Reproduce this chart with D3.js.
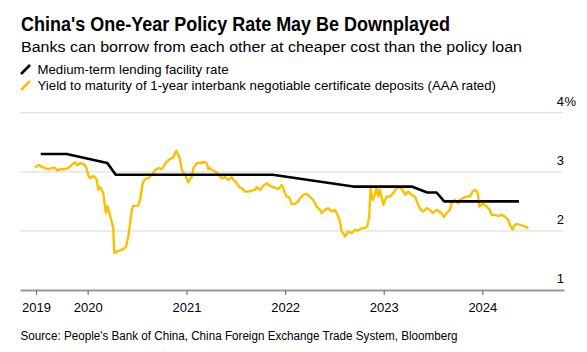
<!DOCTYPE html>
<html>
<head>
<meta charset="utf-8">
<script src="https://cdn.jsdelivr.net/npm/d3@7"></script>
<style>
  html, body { margin: 0; padding: 0; background: #fff; }
  svg { display: block; font-family: "Liberation Sans", Arial, Helvetica, sans-serif; }
</style>
</head>
<body>
<svg id="chart" width="587" height="352"></svg>
<script>
// ---- Data (time as decimal years, values in %) ----
const mlfTime = [2019.524, 2019.787, 2020.199, 2020.284, 2021.874, 2022.691, 2023.283, 2023.441, 2023.536, 2023.613, 2024.370];
const mlfRate = [3.30, 3.30, 3.15, 2.95, 2.95, 2.75, 2.75, 2.65, 2.65, 2.50, 2.50];

const ncdTime = [
  2019.466, 2019.500, 2019.534, 2019.567, 2019.601, 2019.635, 2019.669, 2019.692, 2019.719, 2019.770,
  2019.803, 2019.838, 2019.871, 2019.895, 2019.922, 2019.955, 2019.983, 2020.006, 2020.023, 2020.057,
  2020.091, 2020.107, 2020.125, 2020.142, 2020.158, 2020.185, 2020.199, 2020.219, 2020.243, 2020.259,
  2020.270, 2020.294, 2020.327, 2020.361, 2020.388, 2020.411, 2020.429, 2020.446, 2020.462, 2020.496,
  2020.513, 2020.530, 2020.557, 2020.581, 2020.614, 2020.648, 2020.682, 2020.715, 2020.750, 2020.783,
  2020.817, 2020.851, 2020.867, 2020.895, 2020.918, 2020.935, 2020.952, 2020.986, 2021.019, 2021.036,
  2021.054, 2021.070, 2021.104, 2021.138, 2021.155, 2021.171, 2021.206, 2021.222, 2021.239, 2021.273,
  2021.307, 2021.340, 2021.358, 2021.391, 2021.425, 2021.459, 2021.475, 2021.510, 2021.536, 2021.560,
  2021.594, 2021.627, 2021.662, 2021.695, 2021.712, 2021.746, 2021.779, 2021.814, 2021.847, 2021.880,
  2021.931, 2021.966, 2021.999, 2022.016, 2022.043, 2022.067, 2022.100, 2022.134, 2022.151, 2022.184,
  2022.219, 2022.252, 2022.286, 2022.320, 2022.354, 2022.371, 2022.404, 2022.438, 2022.472, 2022.506,
  2022.539, 2022.556, 2022.573, 2022.590, 2022.607, 2022.640, 2022.675, 2022.708, 2022.742, 2022.776,
  2022.810, 2022.833, 2022.853, 2022.867, 2022.888, 2022.911, 2022.928, 2022.944, 2022.962, 2022.995,
  2023.029, 2023.063, 2023.096, 2023.131, 2023.164, 2023.191, 2023.215, 2023.248, 2023.283, 2023.316,
  2023.350, 2023.374, 2023.400, 2023.435, 2023.468, 2023.495, 2023.536, 2023.587, 2023.610, 2023.637,
  2023.671, 2023.688, 2023.721, 2023.755, 2023.772, 2023.805, 2023.840, 2023.873, 2023.901, 2023.924,
  2023.947, 2023.957, 2023.968, 2024.008, 2024.043, 2024.076, 2024.093, 2024.127, 2024.160, 2024.195,
  2024.228, 2024.262, 2024.279, 2024.306, 2024.320, 2024.347, 2024.380, 2024.414, 2024.448, 2024.465
];
const ncdYield = [
  3.071, 3.117, 3.088, 3.061, 3.044, 3.061, 3.071, 3.020, 3.044, 3.044,
  3.061, 3.117, 3.162, 3.111, 3.145, 3.133, 3.088, 2.948, 2.892, 2.931,
  2.875, 2.694, 2.740, 2.694, 2.639, 2.301, 2.424, 2.301, 2.159, 2.047,
  1.625, 1.652, 1.669, 1.693, 1.736, 1.905, 2.132, 2.356, 2.424, 2.424,
  2.436, 2.525, 2.807, 2.875, 2.892, 2.948, 3.032, 3.061, 3.044, 3.133,
  3.201, 3.230, 3.247, 3.358, 3.285, 3.201, 3.032, 2.948, 2.818, 2.875,
  2.919, 3.061, 3.145, 3.155, 3.145, 3.172, 3.145, 3.044, 3.061, 3.020,
  2.986, 2.919, 2.892, 2.909, 2.863, 2.909, 2.863, 2.807, 2.740, 2.723,
  2.666, 2.666, 2.682, 2.694, 2.740, 2.694, 2.762, 2.807, 2.762, 2.740,
  2.706, 2.779, 2.639, 2.581, 2.564, 2.453, 2.458, 2.497, 2.554, 2.610,
  2.627, 2.571, 2.525, 2.412, 2.356, 2.301, 2.356, 2.385, 2.328, 2.356,
  2.243, 2.159, 1.990, 1.963, 1.905, 1.990, 1.963, 2.019, 2.007, 2.047,
  2.047, 2.074, 2.243, 2.723, 2.525, 2.610, 2.740, 2.581, 2.694, 2.441,
  2.581, 2.581, 2.639, 2.723, 2.740, 2.694, 2.610, 2.666, 2.610, 2.581,
  2.441, 2.356, 2.328, 2.385, 2.356, 2.301, 2.356, 2.301, 2.233, 2.301,
  2.356, 2.470, 2.525, 2.470, 2.525, 2.554, 2.581, 2.581, 2.666, 2.694,
  2.666, 2.610, 2.412, 2.458, 2.412, 2.356, 2.272, 2.272, 2.255, 2.272,
  2.243, 2.188, 2.103, 2.019, 2.086, 2.120, 2.103, 2.086, 2.064, 2.047
];

const xTickTimes = [2019.476, 2020, 2021, 2022, 2023, 2024];
const xTickLabels = ["2019", "2020", "2021", "2022", "2023", "2024"];
const yTicks = [1, 2, 3, 4];
const yTickLabels = ["1", "2", "3", "4"];

const titleText = "China's One-Year Policy Rate May Be Downplayed";
const subtitleText = "Banks can borrow from each other at cheaper cost than the policy loan";
const legendLabels = ["Medium-term lending facility rate", "Yield to maturity of 1-year interbank negotiable certificate deposits (AAA rated)"];
const sourceText = "Source: People's Bank of China, China Foreign Exchange Trade System, Bloomberg";

// ---- helpers ----
function decToDate(t) {
  const y = Math.floor(t);
  const s = Date.UTC(y, 0, 1), e = Date.UTC(y + 1, 0, 1);
  return new Date(s + (t - y) * (e - s));
}

const BLACK = "#000000";
const YELLOW = "#fcc000";

const svg = d3.select("#chart");

// Scales
const x = d3.scaleUtc()
  .domain([decToDate(2019.314), decToDate(2024.826)])
  .range([20, 564]);
const y = d3.scaleLinear().domain([1, 4]).range([290, 112.7]);

// Title / subtitle
function fitText(sel, target) {
  const w = sel.node().getComputedTextLength();
  if (Math.abs(w - target) > 2) sel.attr("textLength", target).attr("lengthAdjust", "spacingAndGlyphs");
}
const t = svg.append("text").attr("x", 21).attr("y", 30.5)
  .attr("font-size", 19.5).attr("font-weight", "bold").attr("fill", "#000").text(titleText);
fitText(t, 429);
const st = svg.append("text").attr("x", 21).attr("y", 52)
  .attr("font-size", 15.3).attr("fill", "#000").text(subtitleText);
fitText(st, 501);

// Legend
const legendColors = [BLACK, YELLOW];
const legendY = [74, 90];
legendLabels.forEach((lab, i) => {
  svg.append("line")
    .attr("x1", 21).attr("y1", legendY[i])
    .attr("x2", 30).attr("y2", legendY[i] - 9)
    .attr("stroke", legendColors[i]).attr("stroke-width", 2.6);
  const lt = svg.append("text").attr("x", 37.5).attr("y", legendY[i])
    .attr("font-size", 13.4).attr("fill", "#000").text(lab);
  fitText(lt, i === 0 ? 191 : 458.5);
});

// Gridlines
svg.append("g").selectAll("line").data(yTicks.slice(1)).join("line")
  .attr("x1", 20).attr("x2", 563)
  .attr("y1", d => y(d)).attr("y2", d => y(d))
  .attr("stroke", "#e1e1e1").attr("stroke-width", 1.3);

// Y labels
svg.append("g").selectAll("text").data(yTicks).join("text")
  .attr("x", 564).attr("y", d => y(d) - 7)
  .attr("text-anchor", "end").attr("font-size", 13).attr("fill", "#000")
  .text((d, i) => yTickLabels[i]);
svg.append("text").attr("x", 564.5).attr("y", y(4) - 7)
  .attr("font-size", 13).attr("fill", "#000").text("%");

// X axis
const xAxis = d3.axisBottom(x)
  .tickValues(xTickTimes.map(decToDate))
  .tickFormat((d, i) => xTickLabels[i])
  .tickSize(5).tickSizeOuter(0);
const gx = svg.append("g").attr("transform", "translate(0,290)").call(xAxis);
gx.select(".domain").attr("stroke", "#999").attr("stroke-width", 1.8);
gx.selectAll(".tick line").attr("stroke", "#777").attr("stroke-width", 1.2);
gx.selectAll(".tick text").attr("font-size", 13).attr("fill", "#000")
  .attr("font-family", '"Liberation Sans", Arial, sans-serif').attr("dy", 0).attr("y", 22);

// Lines
const line = d3.line().x(d => x(decToDate(d[0]))).y(d => y(d[1]));
svg.append("path")
  .datum(ncdTime.map((tt, i) => [tt, ncdYield[i]]))
  .attr("d", line).attr("fill", "none")
  .attr("stroke", YELLOW).attr("stroke-width", 2.4).attr("stroke-linejoin", "round");
svg.append("path")
  .datum(mlfTime.map((tt, i) => [tt, mlfRate[i]]))
  .attr("d", line).attr("fill", "none")
  .attr("stroke", BLACK).attr("stroke-width", 2.6).attr("stroke-linejoin", "round");

// Source
const so = svg.append("text").attr("x", 20.5).attr("y", 339.5)
  .attr("font-size", 12).attr("fill", "#000").text(sourceText);
fitText(so, 437);
</script>
</body>
</html>
